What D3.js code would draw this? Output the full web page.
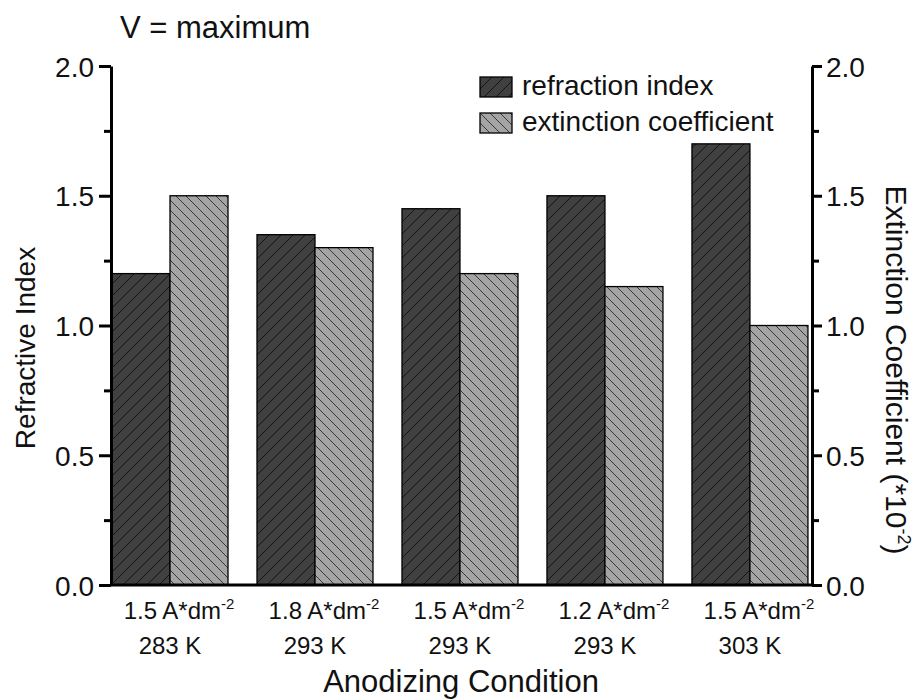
<!DOCTYPE html>
<html>
<head>
<meta charset="utf-8">
<script src="https://cdn.jsdelivr.net/npm/d3@7"></script>
<style>
  body { margin: 0; background: #fff; }
  svg { font-family: "Liberation Sans", Arial, sans-serif; }
</style>
</head>
<body>
<svg width="920" height="700"></svg>
<script>
// data
const currents = ["1.5", "1.8", "1.5", "1.2", "1.5"];
const temps = ["283 K", "293 K", "293 K", "293 K", "303 K"];
const refraction = [1.2, 1.35, 1.45, 1.5, 1.7];
const extinction = [1.5, 1.3, 1.2, 1.15, 1.0];
const yTicks = [0, 0.5, 1.0, 1.5, 2.0];
const yMinor = [0.25, 0.75, 1.25, 1.75];
const seriesNames = ["refraction index", "extinction coefficient"];

const svg = d3.select("svg");
const plot = {left: 111, right: 812, top: 66, bottom: 585};

// patterns for hatching
const defs = svg.append("defs");
function hatch(id, size, bg, line, dir) {
    const p = defs.append("pattern").attr("id", id).attr("patternUnits", "userSpaceOnUse")
        .attr("width", size).attr("height", size);
    p.append("rect").attr("width", size).attr("height", size).attr("fill", bg);
    const s = size;
    const d = dir === "/" ?
        `M0,${s} L${s},0 M${-s / 4},${s / 4} L${s / 4},${-s / 4} M${s * 3 / 4},${s * 5 / 4} L${s * 5 / 4},${s * 3 / 4}` :
        `M0,0 L${s},${s} M${-s / 4},${s * 3 / 4} L${s / 4},${s * 5 / 4} M${s * 3 / 4},${-s / 4} L${s * 5 / 4},${s / 4}`;
    p.append("path").attr("d", d).attr("stroke", line).attr("stroke-width", 1);
}
hatch("darkHatch", 12, "#404040", "#151515", "/");
hatch("lightHatch", 10, "#a4a4a4", "#383838", "\\");

const x = d3.scaleLinear().domain([0.593, 5.428]).range([plot.left, plot.right]);
const y = d3.scaleLinear().domain([0, 2]).range([plot.bottom, plot.top]);
const barW = 0.4;

// bars
const groups = svg.append("g").selectAll("g").data(currents).enter().append("g");
groups.append("rect")
    .attr("x", (d, i) => x(i + 1 - barW))
    .attr("width", x(1) - x(1 - barW))
    .attr("y", (d, i) => y(refraction[i]))
    .attr("height", (d, i) => y(0) - y(refraction[i]))
    .attr("fill", "url(#darkHatch)").attr("stroke", "#000").attr("stroke-width", 1.3);
groups.append("rect")
    .attr("x", (d, i) => x(i + 1))
    .attr("width", x(1) - x(1 - barW))
    .attr("y", (d, i) => y(extinction[i]))
    .attr("height", (d, i) => y(0) - y(extinction[i]))
    .attr("fill", "url(#lightHatch)").attr("stroke", "#000").attr("stroke-width", 1.3);

// axes
function styleAxis(g) {
    g.select(".domain").attr("stroke-width", 3).attr("stroke", "#000");
    g.selectAll(".tick line").attr("stroke-width", 3).attr("stroke", "#000");
    g.selectAll(".tick text").attr("font-size", 28).attr("fill", "#111")
        .attr("font-family", "Liberation Sans, Arial, sans-serif");
}
const leftAxis = svg.append("g").attr("transform", `translate(${plot.left},0)`)
    .call(d3.axisLeft(y).tickValues(yTicks).tickFormat(d3.format(".1f")).tickSize(12).tickSizeOuter(0).tickPadding(5));
styleAxis(leftAxis);
leftAxis.selectAll(".tick text").attr("dy", "0.36em");
svg.append("g").attr("transform", `translate(${plot.left},0)`)
    .call(d3.axisLeft(y).tickValues(yMinor).tickFormat("").tickSize(7).tickSizeOuter(0))
    .call(g => { g.select(".domain").remove(); g.selectAll("line").attr("stroke-width", 3); });

const rightAxis = svg.append("g").attr("transform", `translate(${plot.right},0)`)
    .call(d3.axisRight(y).tickValues(yTicks).tickFormat(d3.format(".1f")).tickSize(10).tickSizeOuter(0).tickPadding(4));
styleAxis(rightAxis);
rightAxis.selectAll(".tick text").attr("dy", "0.36em");
svg.append("g").attr("transform", `translate(${plot.right},0)`)
    .call(d3.axisRight(y).tickValues(yMinor).tickFormat("").tickSize(7).tickSizeOuter(0))
    .call(g => { g.select(".domain").remove(); g.selectAll("line").attr("stroke-width", 3); });

// bottom axis line
svg.append("line").attr("x1", plot.left).attr("x2", plot.right)
    .attr("y1", y(0)).attr("y2", y(0)).attr("stroke", "#000").attr("stroke-width", 3);

// x category labels
const xl = svg.append("g").selectAll("g").data(currents).enter().append("g");
const line1 = xl.append("text").attr("x", (d, i) => x(i + 1) + 9).attr("y", 619)
    .attr("text-anchor", "middle").attr("font-size", 24).attr("fill", "#111");
line1.append("tspan").text(d => d + " A*dm");
line1.append("tspan").attr("dy", -10).attr("font-size", 15).text("-2");
xl.append("text").attr("x", (d, i) => x(i + 1)).attr("y", 654)
    .attr("text-anchor", "middle").attr("font-size", 24).attr("fill", "#111")
    .text((d, i) => temps[i]);

// titles
svg.append("text").attr("x", 461).attr("y", 692).attr("text-anchor", "middle")
    .attr("font-size", 31).attr("fill", "#111").text("Anodizing Condition");
svg.append("text").attr("transform", "translate(35,348) rotate(-90)").attr("text-anchor", "middle")
    .attr("font-size", 28).attr("fill", "#111").text("Refractive Index");
const rt = svg.append("text").attr("transform", "translate(886,370) rotate(90)").attr("text-anchor", "middle")
    .attr("font-size", 30).attr("fill", "#111");
rt.append("tspan").text("Extinction Coefficient (*10");
rt.append("tspan").attr("dy", -12).attr("font-size", 18).text("-2");
rt.append("tspan").attr("dy", 12).text(")");

svg.append("text").attr("x", 120).attr("y", 38).attr("font-size", 31).attr("fill", "#111").text("V = maximum");

// legend
const legend = svg.append("g").selectAll("g").data(seriesNames).enter().append("g")
    .attr("transform", (d, i) => `translate(480,${77 + i * 36})`);
legend.append("rect").attr("width", 32).attr("height", 20)
    .attr("fill", (d, i) => i === 0 ? "url(#darkHatch)" : "url(#lightHatch)")
    .attr("stroke", "#000").attr("stroke-width", 1.3);
legend.append("text").attr("x", 42).attr("y", 18).attr("font-size", 28).attr("fill", "#111").text(d => d);
</script>
</body>
</html>
